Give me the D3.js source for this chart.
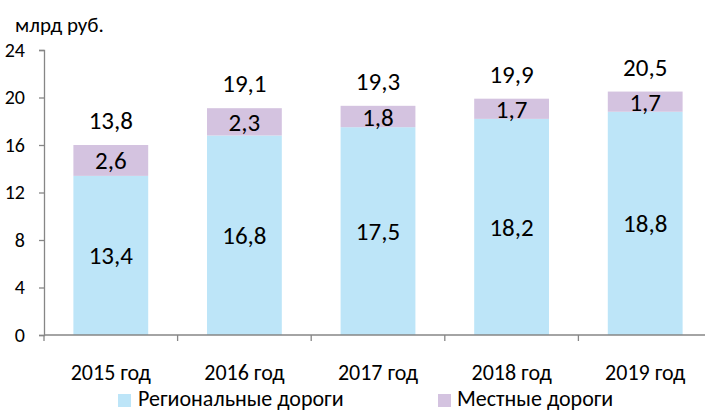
<!DOCTYPE html>
<html><head><meta charset="utf-8">
<script src="https://cdn.jsdelivr.net/npm/d3@7"></script>
<style>body{margin:0;background:#fff}svg{display:block;font-family:Carlito,Lato,sans-serif}</style>
</head><body><svg id="c" width="705" height="412"></svg>
<script>
const categories = ["2015 год","2016 год","2017 год","2018 год","2019 год"];
const regional = [13.4,16.8,17.5,18.2,18.8];
const local = [2.6,2.3,1.8,1.7,1.7];
const totals = [13.8,19.1,19.3,19.9,20.5];
const yTicks = [0,4,8,12,16,20,24];
const seriesNames = ["Региональные дороги","Местные дороги"];
const colors = ["#BDE5F8","#D4C3E0"];
const fmt = v => String(v).replace(".", ",");

const svg = d3.select("#c");
const x = d3.scaleBand().domain(categories).range([44,712]).paddingInner(0.44).paddingOuter(0.22);
const y = d3.scaleLinear().domain([0,24]).range([335,50]);
const axisColor = "#868686";

// y axis
const ya = svg.append("g").attr("transform","translate(44,0)")
  .call(d3.axisLeft(y).tickValues(yTicks).tickSize(5).tickPadding(14).tickFormat(d=>d));
ya.selectAll("path,line").attr("stroke",axisColor).attr("stroke-width",1.3);
ya.selectAll("text").attr("font-size",20).attr("fill","#000").attr("font-family","Carlito,Lato,sans-serif");

const data = categories.map((c,i)=>({c, r:regional[i], l:local[i], t:totals[i]}));
const g = svg.append("g");
g.selectAll("rect.r").data(data).join("rect").attr("class","r")
  .attr("x",d=>x(d.c)).attr("width",x.bandwidth())
  .attr("y",d=>y(d.r)).attr("height",d=>y(0)-y(d.r)).attr("fill",colors[0]);
g.selectAll("rect.l").data(data).join("rect").attr("class","l")
  .attr("x",d=>x(d.c)).attr("width",x.bandwidth())
  .attr("y",d=>y(d.r+d.l)).attr("height",d=>y(d.r)-y(d.r+d.l)).attr("fill",colors[1]);

const cx = d=>x(d.c)+x.bandwidth()/2;
g.selectAll("text.rl").data(data).join("text").attr("class","rl")
  .attr("x",cx).attr("y",d=>(y(0)+y(d.r))/2+9).attr("text-anchor","middle")
  .attr("font-size",25).text(d=>fmt(d.r));
g.selectAll("text.ll").data(data).join("text").attr("class","ll")
  .attr("x",cx).attr("y",d=>(y(d.r)+y(d.r+d.l))/2+9).attr("text-anchor","middle")
  .attr("font-size",25).text(d=>fmt(d.l));
g.selectAll("text.tl").data(data).join("text").attr("class","tl")
  .attr("x",cx).attr("y",d=>y(d.r+d.l)-16).attr("text-anchor","middle")
  .attr("font-size",25).text(d=>fmt(d.t));

// x axis
const xa = svg.append("g").attr("transform","translate(0,335)");
xa.append("line").attr("x1",44).attr("x2",712).attr("stroke",axisColor).attr("stroke-width",1.3);
const bounds = categories.map(c=>x(c)-(x.step()-x.bandwidth())/2);
xa.selectAll("line.t").data(bounds).join("line").attr("class","t")
  .attr("x1",d=>d).attr("x2",d=>d).attr("y1",0).attr("y2",6).attr("stroke",axisColor).attr("stroke-width",1.3);
xa.selectAll("text").data(data).join("text")
  .attr("x",cx).attr("y",45).attr("text-anchor","middle").attr("font-size",22).text(d=>d.c);

svg.append("text").attr("x",15).attr("y",32).attr("font-size",21).text("млрд руб.");

// legend
const leg = [{x:118,tx:138},{x:438,tx:457}];
seriesNames.forEach((n,i)=>{
  svg.append("rect").attr("x",leg[i].x).attr("y",394).attr("width",13).attr("height",13).attr("fill",colors[i]);
  svg.append("text").attr("x",leg[i].tx).attr("y",406).attr("font-size",22).text(n);
});
</script></body></html>
